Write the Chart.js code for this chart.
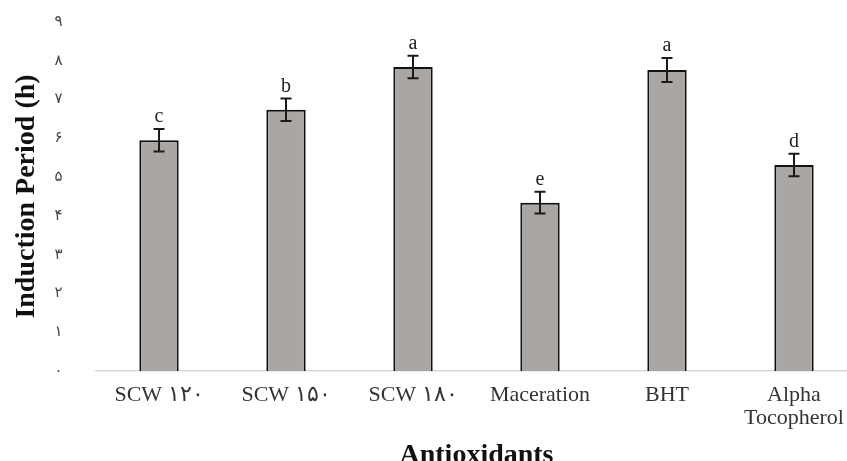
<!DOCTYPE html>
<html>
<head>
<meta charset="utf-8">
<script src="https://cdn.jsdelivr.net/npm/chart.js@4.4.1/dist/chart.umd.min.js"></script>
<style>
  html, body { margin: 0; padding: 0; background: #fff; overflow: hidden; }
  #wrap { width: 862px; height: 461px; }
</style>
</head>
<body>
<div id="wrap"><canvas id="chart" width="862" height="461"></canvas></div>
<script>
// data
const categories = ['SCW ۱۲۰', 'SCW ۱۵۰', 'SCW ۱۸۰', 'Maceration', 'BHT', ['Alpha', 'Tocopherol']];
const inductionHours = [5.95, 6.74, 7.84, 4.34, 7.76, 5.31];
const errorHours = [0.29, 0.29, 0.29, 0.28, 0.31, 0.29];
const groupLetters = ['c', 'b', 'a', 'e', 'a', 'd'];
const yTicks = [0, 1, 2, 3, 4, 5, 6, 7, 8, 9];

const persianDigits = '۰۱۲۳۴۵۶۷۸۹';
function toPersian(v) {
    return String(v).replace(/\d/g, (d) => persianDigits[d]);
}

const serif = '"Liberation Serif", "Times New Roman", "DejaVu Serif", serif';

// error bars + significance letters, placed through the y scale
const errorBarPlugin = {
    id: 'errorBars',
    afterDatasetsDraw(chart) {
        const ctx = chart.ctx;
        const yScale = chart.scales.y;
        const meta = chart.getDatasetMeta(0);
        ctx.save();
        ctx.strokeStyle = '#1a1a1a';
        ctx.lineWidth = 2;
        meta.data.forEach((bar, i) => {
            const x = bar.x;
            const top = yScale.getPixelForValue(inductionHours[i] + errorHours[i]);
            const bottom = yScale.getPixelForValue(inductionHours[i] - errorHours[i]);
            ctx.beginPath();
            ctx.moveTo(x, top);
            ctx.lineTo(x, bottom);
            ctx.moveTo(x - 5.5, top);
            ctx.lineTo(x + 5.5, top);
            ctx.moveTo(x - 5.5, bottom);
            ctx.lineTo(x + 5.5, bottom);
            ctx.stroke();

            ctx.fillStyle = '#222';
            ctx.font = '20px ' + serif;
            ctx.textAlign = 'center';
            ctx.textBaseline = 'bottom';
            ctx.fillText(groupLetters[i], x, top - 2);
        });
        ctx.restore();
    }
};

const chart = new Chart(document.getElementById('chart'), {
    type: 'bar',
    data: {
        labels: categories,
        datasets: [{
            data: inductionHours,
            backgroundColor: '#a9a6a4',
            borderColor: '#111',
            borderWidth: 2,
            borderSkipped: 'bottom',
            barPercentage: 0.31,
            categoryPercentage: 1.0
        }]
    },
    options: {
        responsive: false,
        animation: false,
        layout: { padding: { top: 0, right: 4.5, left: 0, bottom: 0 } },
        plugins: {
            legend: { display: false },
            tooltip: { enabled: false }
        },
        scales: {
            x: {
                grid: { display: false },
                border: { display: true, color: '#d9d9d9', width: 1.5 },
                ticks: {
                    color: '#333',
                    font: { family: serif, size: 22, lineHeight: 1.05 },
                    padding: 5,
                    maxRotation: 0,
                    autoSkip: false
                },
                title: {
                    display: true,
                    text: 'Antioxidants',
                    color: '#111',
                    font: { family: serif, size: 28, weight: 'bold' },
                    padding: { top: 0, bottom: -12 }
                },
                afterFit(scale) { scale.height = 90; }
            },
            y: {
                min: 0,
                max: 9,
                grid: { display: false },
                border: { display: false },
                afterBuildTicks(scale) {
                    scale.ticks = yTicks.map((v) => ({ value: v }));
                },
                ticks: {
                    color: '#444',
                    font: { family: '"DejaVu Serif", "DejaVu Sans", serif', size: 15 },
                    padding: 25,
                    callback: (v) => toPersian(v)
                },
                title: {
                    display: true,
                    text: 'Induction Period (h)',
                    color: '#111',
                    font: { family: serif, size: 28, weight: 'bold' },
                    padding: { top: 10, bottom: 0 }
                },
                afterFit(scale) {
                    scale.width = 95.5;
                    // keep the large label gap from pushing the plot down
                    scale.paddingTop = 22;
                    scale.paddingBottom = 0;
                }
            }
        }
    },
    plugins: [errorBarPlugin]
});
</script>
</body>
</html>
